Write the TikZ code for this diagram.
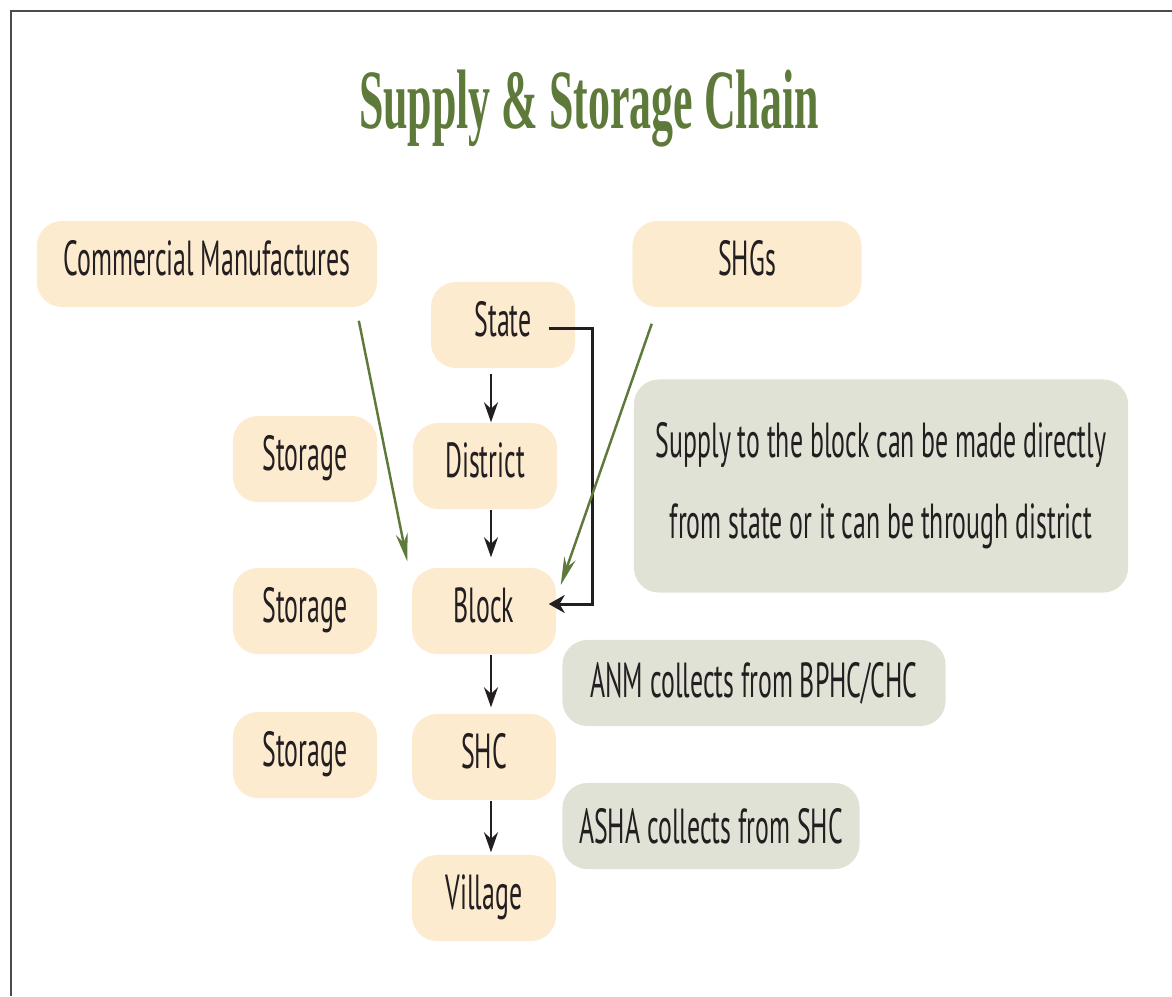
\documentclass[tikz,border=0pt]{standalone}
\usepackage{fontspec}
\usetikzlibrary{arrows.meta}

\newfontfamily\boxfont{PT Sans}[FakeStretch=0.525]
\newfontfamily\titlefont{Liberation Serif}[FakeStretch=0.52]

\definecolor{peach}{RGB}{253,235,208}
\definecolor{sage}{RGB}{224,226,213}
\definecolor{olive}{RGB}{94,122,58}
\definecolor{ink}{RGB}{35,31,32}

\begin{document}
\begin{tikzpicture}[x=0.01cm, y=-0.01cm,
  level/.style={fill=peach, rounded corners=0.25cm, inner sep=0pt,
    minimum width=1.44cm, minimum height=0.86cm, text=ink,
    text height=0.34cm, text depth=0.12cm,
    font=\boxfont\fontsize{14}{16}\selectfont},
  note/.style={fill=sage, rounded corners=0.25cm, inner sep=0pt, align=center,
    minimum height=0.86cm, text=ink,
    font=\boxfont\fontsize{14}{23}\selectfont},
  down/.style={-{Stealth[length=0.2cm, width=0.14cm]}, ink, line width=0.6pt},
  bypass/.style={-{Stealth[length=0.16cm, width=0.18cm]}, ink, line width=0.85pt},
  feed/.style={-{Stealth[length=0.28cm, width=0.12cm]}, olive, line width=0.7pt}]
  \useasboundingbox (0,0) rectangle (1172,996);
  \draw[black!70, line width=0.8pt] (11,996) -- (11,11) -- (1172,11);

  \node[anchor=base, text=olive, font=\titlefont\bfseries\fontsize{24}{28}\selectfont]
    (title) at (589,128) {Supply \& Storage Chain};

  \node[level, minimum width=3.4cm] (commercial) at (207,264) {Commercial Manufactures};
  \node[level, minimum width=2.29cm] (shgs) at (747,264) {SHGs};

  \node[level] (state) at (503,325) {State};
  \node[level] (district) at (485,466) {District};
  \node[level] (block) at (484,611) {Block};
  \node[level] (shc) at (484,757) {SHC};
  \node[level] (village) at (484,898) {Village};

  \node[level] (store1) at (305,459) {Storage};
  \node[level] (store2) at (305,611) {Storage};
  \node[level] (store3) at (305,755) {Storage};

  \node[note, minimum width=4.94cm, minimum height=2.13cm] (direct) at (881,486)
    {Supply to the block can be made directly\\from state or it can be through district};
  \node[note, minimum width=3.83cm] (anm) at (754,683) {ANM collects from BPHC/CHC};
  \node[note, minimum width=2.97cm] (asha) at (711,826) {ASHA collects from SHC};

  % main chain
  \coordinate (spine) at (491,0);
  \draw[down, shorten <=0.05cm] (state.south -| spine) -- (district.north -| spine);
  \draw[down, shorten >=0.1cm] (district.south -| spine) -- (block.north -| spine);
  \draw[down, shorten >=0.06cm] (block.south -| spine) -- (shc.north -| spine);
  \draw[down, shorten >=0.02cm] (shc.south -| spine) -- (village.north -| spine);

  % state straight to block
  \draw[bypass] ([xshift=-0.27cm, yshift=-0.03cm]state.east) -- ++(0.44cm,0)
    |- ([xshift=-0.08cm, yshift=0.07cm]block.east);

  \draw[feed] ([xshift=-0.19cm, yshift=-0.13cm]commercial.south east)
    -- ([xshift=-0.04cm, yshift=0.06cm]block.north west);
  \draw[feed] ([xshift=0.2cm, yshift=-0.16cm]shgs.south west)
    -- ([xshift=0.04cm, yshift=0.26cm]block.east);
\end{tikzpicture}
\end{document}
